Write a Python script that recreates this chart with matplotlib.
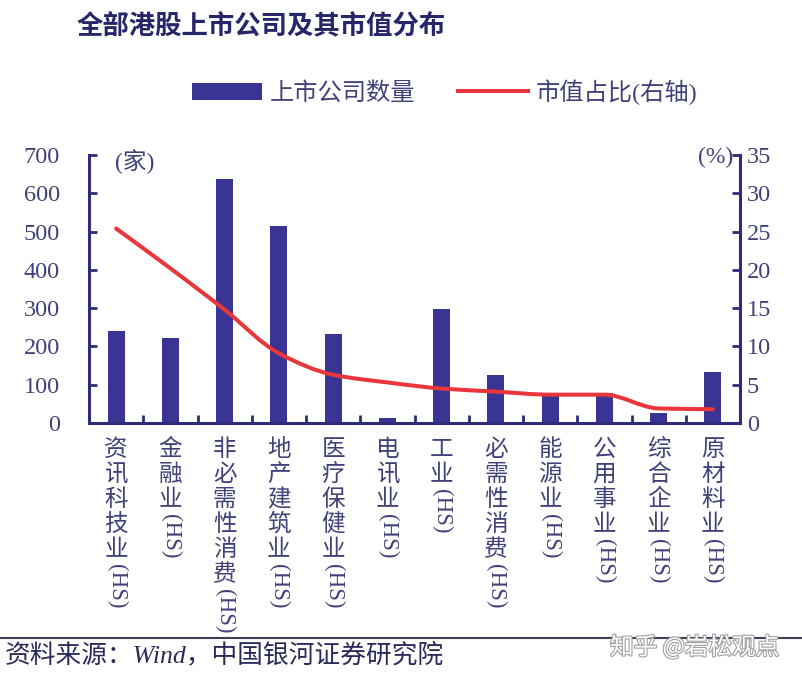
import matplotlib
matplotlib.use('Agg')
import matplotlib.pyplot as plt
from matplotlib.path import Path
from matplotlib.patches import PathPatch, Patch
from matplotlib.lines import Line2D
import matplotlib.patheffects as pe
import numpy as np

# ---------------- data ----------------
categories = ['资讯科技业(HS)', '金融业(HS)', '非必需性消费(HS)', '地产建筑业(HS)',
              '医疗保健业(HS)', '电讯业(HS)', '工业(HS)', '必需性消费(HS)',
              '能源业(HS)', '公用事业(HS)', '综合企业(HS)', '原材料业(HS)']
company_counts = [240, 222, 637, 515, 232, 12, 297, 125, 73, 79, 25, 134]
mcap_share = [25.4, 20.2, 14.8, 9.1, 6.3, 5.3, 4.5, 4.1, 3.7, 3.7, 1.9, 1.8]
left_ticks = [0, 100, 200, 300, 400, 500, 600, 700]
right_ticks = [0, 5, 10, 15, 20, 25, 30, 35]
title = '全部港股上市公司及其市值分布'
legend_labels = ['上市公司数量', '市值占比(右轴)']
source = '资料来源：Wind，中国银河证券研究院'
watermark = '知乎 @岩松观点'

# ---------------- style ----------------
BAR = '#3a3594'
RED = '#e8363b'
AXC = '#2e2b78'
TXT = '#41417a'
TITLE_C = '#27266a'
SERIF = ['Liberation Serif', 'Noto Sans CJK SC', 'DejaVu Sans']
CJK = ['Noto Sans CJK SC', 'Liberation Serif', 'DejaVu Sans']
plt.rcParams['font.family'] = SERIF

W, H = 802, 680
fig = plt.figure(figsize=(W / 100, H / 100), dpi=100)
ax = fig.add_axes([89 / W, 1 - 423 / H, (740 - 89) / W, (423 - 155) / H])
ax2 = ax.twinx()

x = np.arange(len(categories))
ax.bar(x, company_counts, width=0.31, color=BAR, zorder=2)
ax.set_xlim(-0.5, len(categories) - 0.5)
ax.set_ylim(0, 700)
ax2.set_ylim(0, 35)
ax.set_yticks(left_ticks)
ax2.set_yticks(right_ticks)

# smoothed line: monotone cubic bezier segments through the data points
xs = x.astype(float)
ys = np.asarray(mcap_share, dtype=float)
n = len(xs)
d = np.diff(ys) / np.diff(xs)
m = np.zeros(n)
m[0], m[-1] = d[0], d[-1]
for i in range(1, n - 1):
    if d[i - 1] * d[i] <= 0:
        m[i] = 0.0
    else:
        m[i] = 2.0 / (1.0 / d[i - 1] + 1.0 / d[i])
verts = [(xs[0], ys[0])]
codes = [Path.MOVETO]
for i in range(n - 1):
    h = xs[i + 1] - xs[i]
    verts += [(xs[i] + h / 3, ys[i] + m[i] * h / 3),
              (xs[i + 1] - h / 3, ys[i + 1] - m[i + 1] * h / 3),
              (xs[i + 1], ys[i + 1])]
    codes += [Path.CURVE4] * 3
ax2.add_patch(PathPatch(Path(verts, codes), fill=False, edgecolor=RED, lw=2.9,
                        capstyle='round', joinstyle='round', zorder=3))

# spines
for a in (ax, ax2):
    a.spines['top'].set_visible(False)
ax.spines['right'].set_visible(False)
ax2.spines['left'].set_visible(False)
ax2.spines['bottom'].set_visible(False)
for s in ('left', 'bottom'):
    ax.spines[s].set_color(AXC)
    ax.spines[s].set_linewidth(2.2)
ax2.spines['right'].set_color(AXC)
ax2.spines['right'].set_linewidth(2.2)

# ticks
ax.tick_params(axis='y', direction='in', length=6, width=2, color=AXC, pad=21,
               labelsize=17.5, labelcolor=TXT)
ax2.tick_params(axis='y', direction='in', length=6, width=2, color=AXC, pad=5,
                labelsize=17.5, labelcolor=TXT)
ax.set_xticks(x)
ax.set_xticklabels([])
ax.tick_params(axis='x', which='major', length=0)
ax.set_xticks(np.arange(0.5, len(categories) - 1, 1), minor=True)
ax.tick_params(axis='x', which='minor', direction='in', length=6, width=2, color=AXC)

# vertical category labels
pitch = 25
top0 = 15
for i, lab in enumerate(categories):
    core = lab.replace('(HS)', '')
    for k, ch in enumerate(core):
        ax.annotate(ch, xy=(i, 0), xycoords=('data', 'axes fraction'),
                    xytext=(0, -top0 - k * pitch), textcoords='offset pixels',
                    ha='center', va='top', fontsize=17, color=TXT,
                    family=CJK, annotation_clip=False)
    ax.annotate('(HS)', xy=(i, 0), xycoords=('data', 'axes fraction'),
                xytext=(0, -top0 - len(core) * pitch - 1), textcoords='offset pixels',
                ha='center', va='top', rotation=-90, fontsize=16.5, color=TXT,
                family=SERIF, annotation_clip=False)

# unit labels
fig.text(115 / W, 1 - 162 / H, '(家)', ha='left', va='center', fontsize=17,
         color=TXT, family=SERIF)
fig.text(733 / W, 1 - 157 / H, '(%)', ha='right', va='center', fontsize=17,
         color=TXT, family=SERIF)

# title
fig.text(77 / W, 1 - 27 / H, title, ha='left', va='center', fontsize=19,
         fontweight='bold', color=TITLE_C, family=CJK)

# legend
handles = [Patch(facecolor=BAR, edgecolor='none'),
           Line2D([], [], color=RED, lw=2.9)]
leg = fig.legend(handles, legend_labels, loc='center left',
                 bbox_to_anchor=(192 / W, 1 - 92 / H), ncol=2, frameon=False,
                 handlelength=2.9, handleheight=0.7,
                 handletextpad=0.3, columnspacing=1.75, borderpad=0,
                 borderaxespad=0, prop={'family': SERIF, 'size': 17.5})
for t in leg.get_texts():
    t.set_color(TXT)

# footer
fig.add_artist(Line2D([0, 1], [1 - 638 / H, 1 - 638 / H], transform=fig.transFigure,
                      color='#3d3d5c', lw=1.5))
fig.text(5 / W, 1 - 656 / H, source, ha='left', va='center', fontsize=18.5,
         style='italic', color='#2a2a5a', family=SERIF)
fig.text(610 / W, 1 - 647 / H, watermark, ha='left', va='center', fontsize=17,
         color='white', family=CJK,
         path_effects=[pe.withStroke(linewidth=1.6, foreground='#a0a0a0')])

fig.savefig('out.png', dpi=100)
